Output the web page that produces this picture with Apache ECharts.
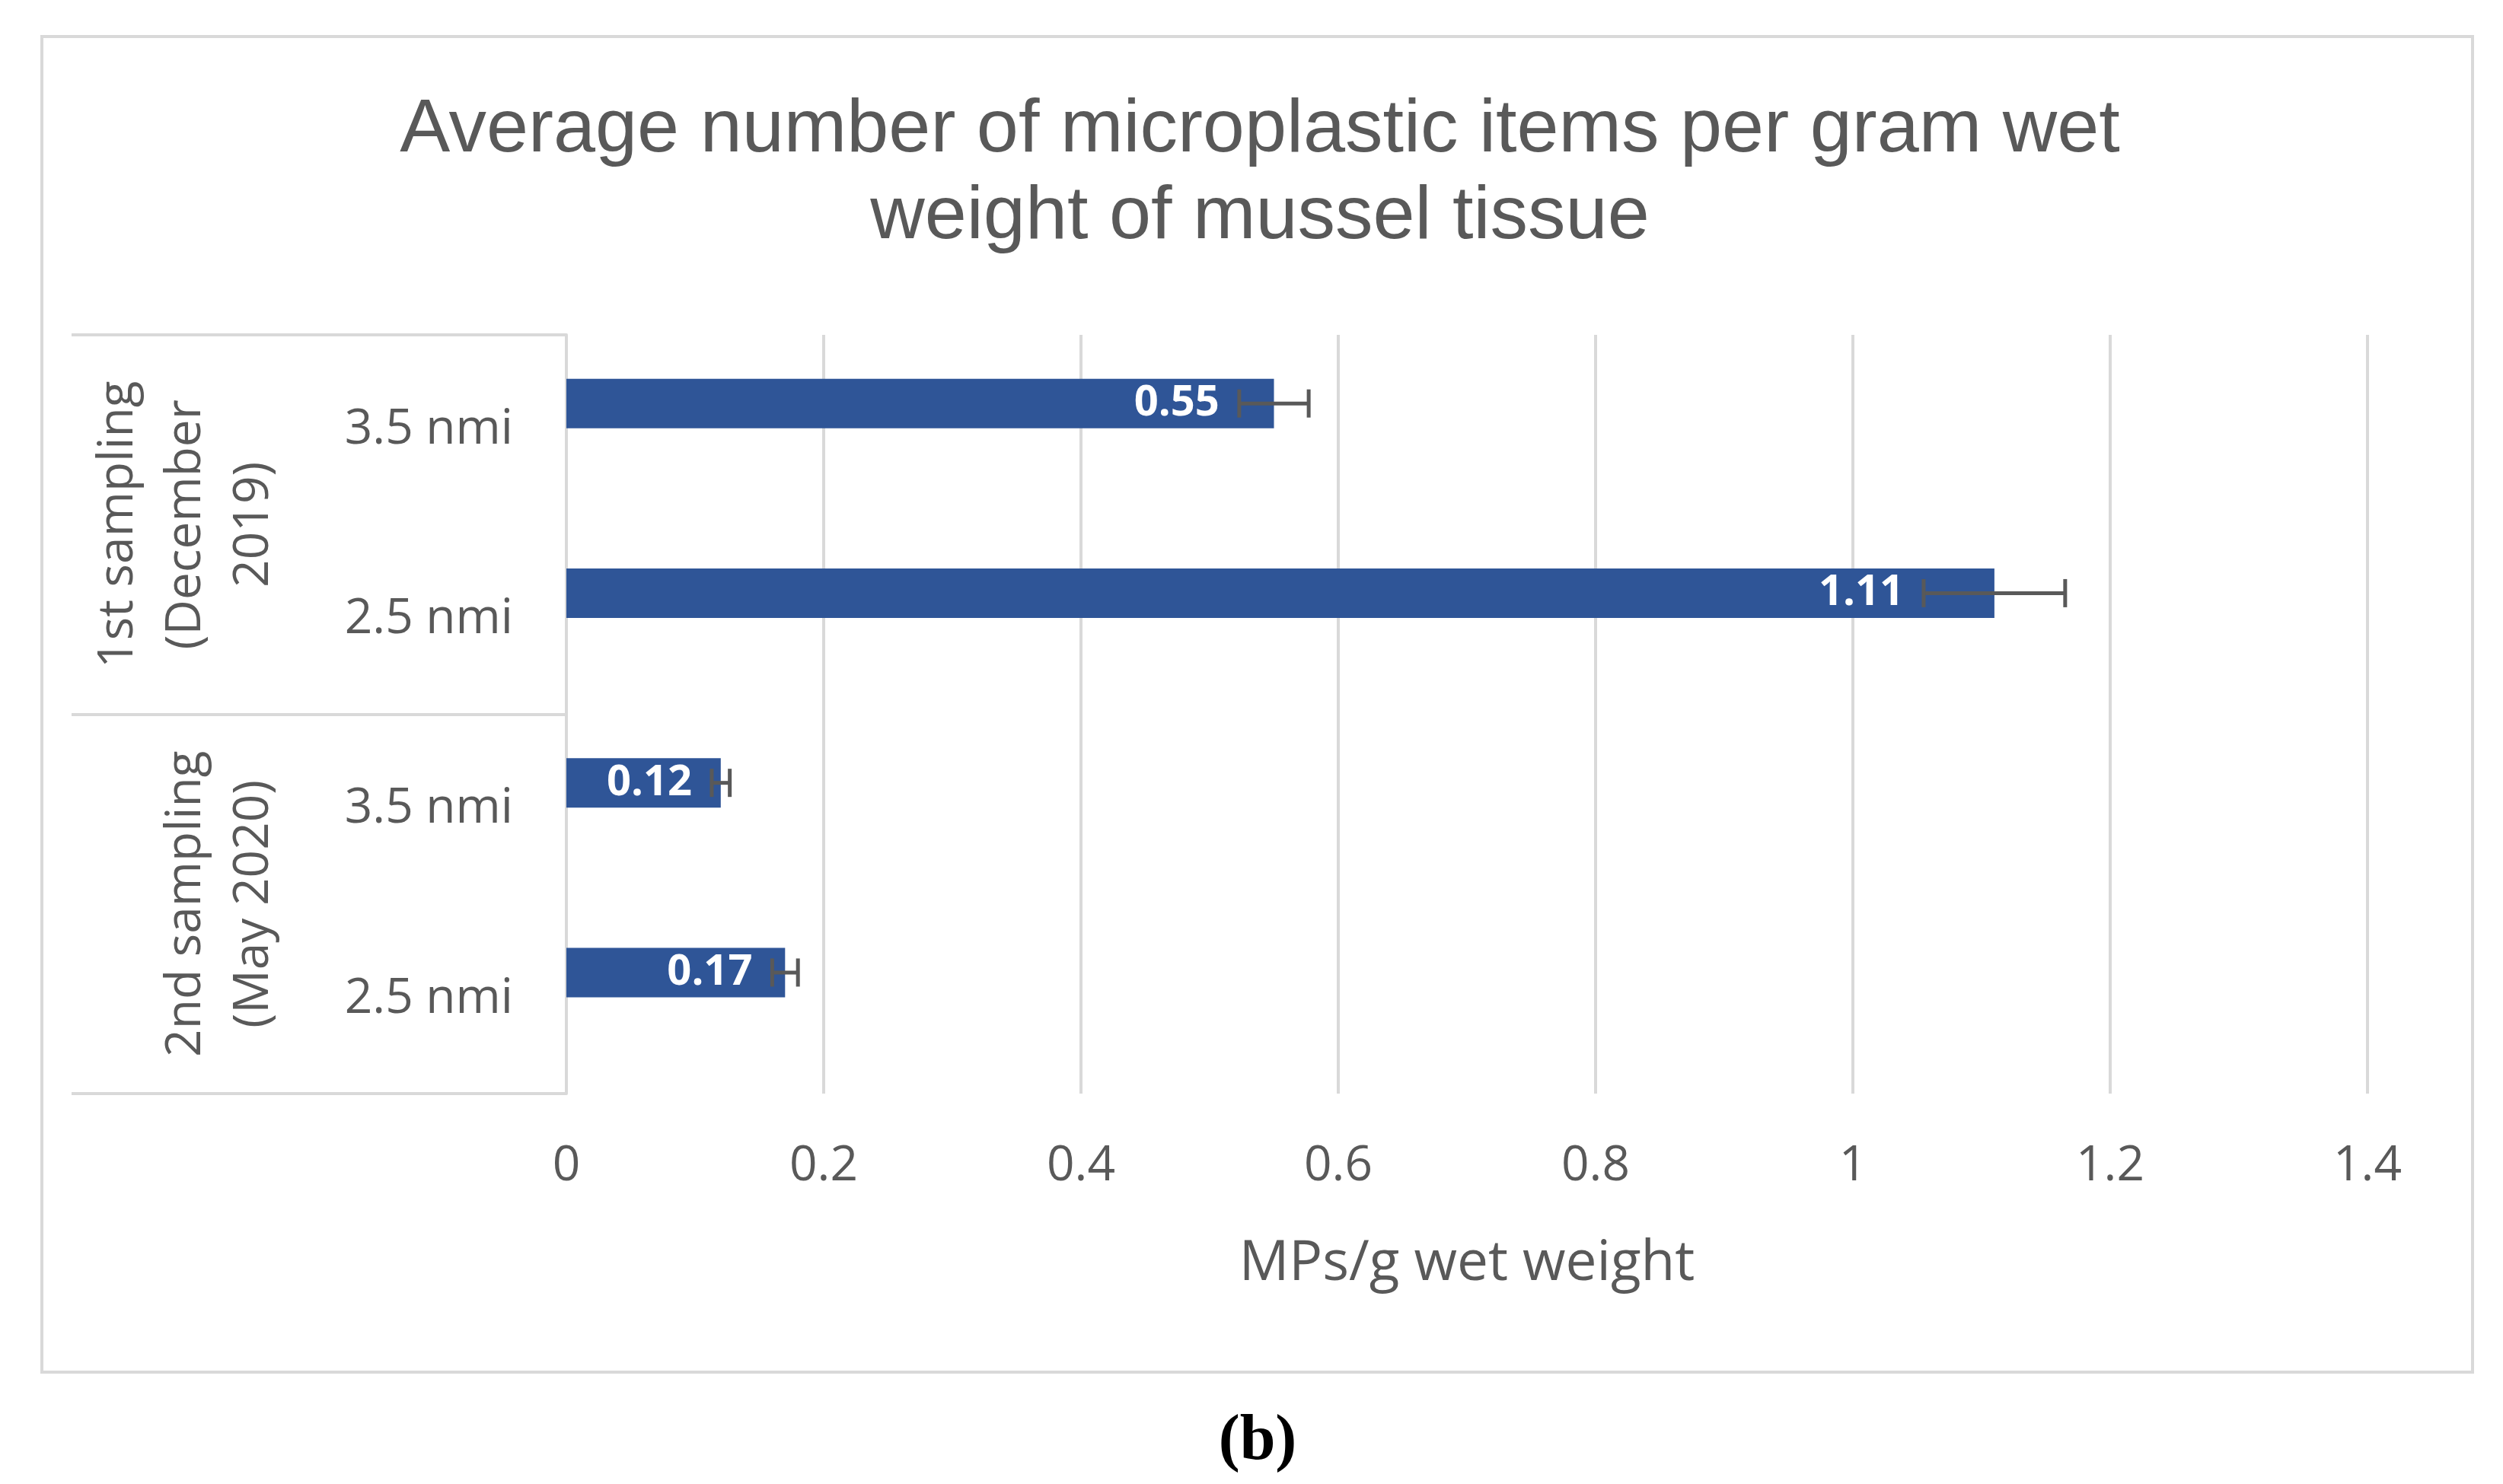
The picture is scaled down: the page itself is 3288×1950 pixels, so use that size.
<!DOCTYPE html>
<html><head><meta charset="utf-8">
<script src="https://cdn.jsdelivr.net/npm/echarts@6/dist/echarts.min.js"></script>
<style>html,body{margin:0;padding:0;background:#fff}#c{width:3288px;height:1950px}</style>
</head><body><div id="c"></div>
<script>
// ---- data ----
const chartTitle = 'Average number of microplastic items per gram wet\nweight of mussel tissue';
const categories = ['3.5 nmi', '2.5 nmi', '3.5 nmi', '2.5 nmi'];
const groups = ['1st sampling\n(December\n2019)', '2nd sampling\n(May 2020)'];
const values = [0.55, 1.11, 0.12, 0.17];
const errors = [0.027, 0.055, 0.007, 0.010];
const xMin = 0, xMax = 1.4, xInterval = 0.2;
const xAxisName = 'MPs/g wet weight';
const caption = '(b)';

// ---- style constants ----
const GRAY = '#595959', LINE = '#D9D9D9', BLUE = '#2F5597';
const BAR_W = 65, BAR_GAP = 0.06;
const BAR_OFFSET = -(BAR_W * 2 + BAR_W * BAR_GAP) / 2 + BAR_W / 2;
const CAP = 37, LABEL_GAP = 26;
const SANS = '"Open Sans", "Noto Sans", sans-serif';

const chart = echarts.init(document.getElementById('c'), null, {renderer: 'canvas'});

const option = {
  backgroundColor: '#fff',
  animation: false,
  title: {
    text: chartTitle, left: 1650, textAlign: 'center', top: 110,
    textStyle: {fontFamily: '"Liberation Sans", Arial, sans-serif', fontSize: 99, fontWeight: 'normal', color: GRAY, lineHeight: 114}
  },
  grid: {left: 744, right: 178, top: 440, bottom: 513, containLabel: false},
  xAxis: {
    type: 'value', min: xMin, max: xMax, interval: xInterval,
    name: xAxisName, nameLocation: 'middle', nameGap: 188,
    nameTextStyle: {fontFamily: SANS, fontSize: 73, color: GRAY},
    axisLine: {show: false}, axisTick: {show: false},
    axisLabel: {fontFamily: SANS, fontSize: 64, color: GRAY, margin: 64},
    splitLine: {show: true, lineStyle: {color: LINE, width: 4}}
  },
  yAxis: [
    {
      type: 'category', data: categories, inverse: true,
      axisLine: {show: true, lineStyle: {color: LINE, width: 4}},
      axisTick: {show: false},
      axisLabel: {fontFamily: SANS, fontSize: 64, color: GRAY, margin: 70}
    },
    {
      type: 'category', data: groups, inverse: true, position: 'left', offset: 0,
      axisLine: {show: false},
      axisTick: {show: true, length: 650, lineStyle: {color: LINE, width: 4}},
      axisLabel: {show: false}
    }
  ],
  series: [
    {
      type: 'bar', data: values, barWidth: BAR_W, barGap: (BAR_GAP * 100) + '%',
      itemStyle: {color: BLUE}, z: 2
    },
    {
      type: 'bar', data: values.map(() => null), barWidth: BAR_W
    },
    {
      type: 'custom', z: 5,
      data: values.map((v, i) => [i, v, errors[i]]),
      encode: {y: 0, x: 1},
      renderItem: function (params, api) {
        const i = api.value(0), v = api.value(1), e = api.value(2);
        const c = api.coord([v, i]);
        const lo = api.coord([v - e, i]);
        const hi = api.coord([v + e, i]);
        const y = c[1] + BAR_OFFSET;
        const h = CAP / 2;
        const ls = {stroke: GRAY, lineWidth: 5};
        return {
          type: 'group', children: [
            {type: 'line', shape: {x1: lo[0], y1: y, x2: hi[0], y2: y}, style: ls},
            {type: 'line', shape: {x1: lo[0], y1: y - h, x2: lo[0], y2: y + h}, style: ls},
            {type: 'line', shape: {x1: hi[0], y1: y - h, x2: hi[0], y2: y + h}, style: ls},
            {type: 'text', x: lo[0] - LABEL_GAP, y: y,
              style: {text: v.toFixed(2), fill: '#fff', font: 'bold 56px ' + SANS, align: 'right', verticalAlign: 'middle'}}
          ]
        };
      }
    }
  ]
};
chart.setOption(option);

// group labels + frame + caption
const gfx = [
  {type: 'rect', shape: {x: 55, y: 48, width: 3193, height: 1755}, style: {fill: 'none', stroke: LINE, lineWidth: 4}, z: -1},
  {type: 'text', x: 1652, y: 1895, style: {text: caption, font: 'bold 84px "Liberation Serif", "Times New Roman", serif', fill: '#000', align: 'center', verticalAlign: 'middle'}}
];
groups.forEach((g, k) => {
  const yc = chart.convertToPixel({yAxisIndex: 1}, k);
  gfx.push({
    type: 'text', x: 378, y: yc, rotation: Math.PI / 2,
    style: {text: g, font: '64px ' + SANS, fill: GRAY, align: 'center', verticalAlign: 'bottom', lineHeight: 89}
  });
});
chart.setOption({graphic: gfx});
</script>
</body></html>
